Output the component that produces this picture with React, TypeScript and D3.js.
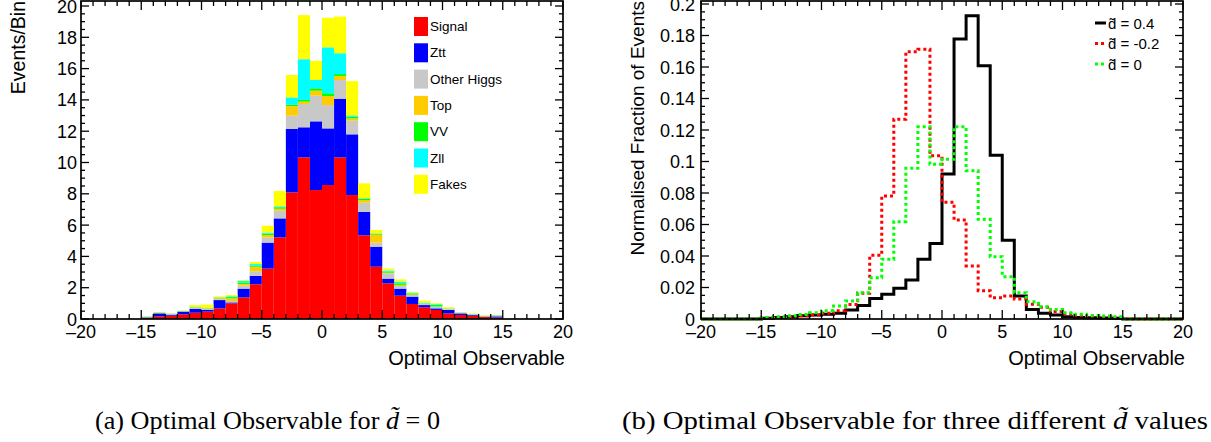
import React from 'react';
import * as d3 from 'd3';

// ---------- data ----------
const binLow = [-20,-19,-18,-17,-16,-15,-14,-13,-12,-11,-10,-9,-8,-7,-6,-5,-4,-3,-2,-1,0,1,2,3,4,5,6,7,8,9,10,11,12,13,14,15,16,17,18,19];

// (a) stacked contributions per bin (Events/Bin)
const signal = [0,0,0,0,0, .05,.17,.21,.3,.4, .47,.68,1.0,1.38,2.22, 3.22,5.22,8.09,10.33,8.24, 8.56,10.33,7.92,5.35,3.34, 2.28,1.49,.96,.75,.58, .36,.26,.21,.13,.1, 0,0,0,0,0];
const ztt = [0,0,0,0,0, .05,.19,.07,.17,.24, .12,.53,.06,.56,.53, 1.66,1.21,4.05,1.92,4.39, 3.62,3.75,3.88,1.49,1.28, .3,.45,.47,.14,.1, .22,.1,.05,.02,.07, 0,0,0,0,0];
const otherHiggs = [0,0,0,0,0, .03,.02,.04,.03,.06, .05,.06,.09,.19,.3, .34,.49,.85,1.49,1.64, 1.49,1.19,.87,.59,.26, .34,.17,.1,.07,.1, .04,.04,.04,.03,.03, 0,0,0,0,0];
const top = [0,0,0,0,0, 0,0,0,0,.03, .04,.06,.17,.11,.29, .15,.13,.61,.15,.32, .58,.26,.15,.17,.51, .04,.07,.04,.02,.02, .02,0,0,0,0, 0,0,0,0,0];
const vv = [0,0,0,0,0, .02,.03,.01,.02,.02, .02,.03,.08,.08,.07, .08,.09,.1,.11,.15, .17,.12,.11,.09,.06, .06,.1,.05,.02,.1, .02,.01,.01,.02,.02, 0,0,0,0,0];
const zll = [0,0,0,0,0, 0,0,.01,0,.02, .02,.02,.05,.11,.1, .07,.06,.46,2.6,.53, 2.94,1.33,.08,.03,.02, .07,.11,.04,.05,.05, .02,.01,.01,.01,.02, 0,0,0,0,0];
const fakes = [0,0,0,0,0, .02,.02,.02,.02,.12, .2,.07,.08,.06,.13, .44,.98,1.43,2.82,1.23, 1.89,2.34,2.19,.95,.22, .13,.14,.07,.12,.05, .07,.01,.04,.02,.01, 0,0,0,0,0];

const stackNames = ['Signal', 'Ztt', 'Other Higgs', 'Top', 'VV', 'Zll', 'Fakes'];
const stackColors = ['#ff0000', '#0000ff', '#c8c8c8', '#ffcc00', '#00ff00', '#00ffff', '#ffff00'];
const stackSeries = [signal, ztt, otherHiggs, top, vv, zll, fakes];

// (b) normalised fractions
const dPos04 = [0,0,0,0,0, .0005,.001,.0015,.002,.0025, .003,.0036,.0057,.0085,.013, .0157,.0195,.0248,.0379,.048, .092,.1778,.1926,.1608,.104, .05,.0146,.0061,.0036,.0025, .0015,.001,.0008,.0006,.0004, 0,0,0,0,0];
const dNeg02 = [0,0,0,0,0, .0005,.0008,.0012,.002,.0025, .0036,.0053,.0092,.0163,.0404, .0781,.1268,.1697,.1712,.1037, .0741,.0629,.0337,.018,.0135, .0146,.0127,.0093,.0074,.0047, .0032,.0023,.0017,.0012,.0008, 0,0,0,0,0];
const dZero = [0,0,0,0,0, .001,.0015,.002,.0028,.004, .0053,.0083,.0114,.0167,.0262, .0379,.0618,.0957,.1221,.0982, .1014,.1221,.0942,.0633,.0396, .0269,.0167,.011,.0078,.0061, .004,.003,.0023,.0019,.0015, 0,0,0,0,0];

const lineNames = ['d\u0303 = 0.4', 'd\u0303 = -0.2', 'd\u0303 = 0'];
const lineColors = ['#000000', '#ff0000', '#00ff00'];
const lineSeries = [dPos04, dNeg02, dZero];

const xMajor = [-20, -15, -10, -5, 0, 5, 10, 15, 20];
const yMajorA = [0, 2, 4, 6, 8, 10, 12, 14, 16, 18, 20];
const yMajorB = [0, 0.02, 0.04, 0.06, 0.08, 0.1, 0.12, 0.14, 0.16, 0.18, 0.2];

// ---------- layout ----------
const W = 1211, H = 442;
const FT = 'Liberation Sans, Arial, Helvetica, sans-serif';
const SERIF = 'Liberation Serif, Times New Roman, serif';
const TOP = 1, BOT = 319;

const xA = d3.scaleLinear().domain([-20, 20]).range([81, 563]);
const yA = d3.scaleLinear().domain([0, 20]).range([BOT, 6]);
const xB = d3.scaleLinear().domain([-20, 20]).range([701, 1183]);
const yB = d3.scaleLinear().domain([0, 0.2]).range([BOT, 4]);

function fmtX(v: number) { return v < 0 ? '\u2013' + Math.abs(v) : String(v); }
function fmtB(v: number) { return String(+v.toFixed(2)); }

function Frame({ x, y, yMinorStep, yMax, fmtY, labelGap }: any) {
  const x0 = x.range()[0], x1 = x.range()[1];
  const xMinor = d3.range(-20, 21, 1);
  const nMinor = Math.round(yMax / yMinorStep);
  const yMinor = d3.range(0, nMinor + 1).map((i) => i * yMinorStep).filter((v) => y(v) >= TOP);
  const majors = yMax > 1 ? yMajorA : yMajorB;
  return (
    <g>
      <rect x={x0} y={TOP} width={x1 - x0} height={BOT - TOP} fill="none" stroke="#000" strokeWidth={1.7} />
      {xMinor.map((v) => {
        const major = xMajor.includes(v);
        const L = major ? 9 : 5;
        return (
          <g key={'xt' + v}>
            <line x1={x(v)} x2={x(v)} y1={BOT} y2={BOT - L} stroke="#000" strokeWidth={1.3} />
            <line x1={x(v)} x2={x(v)} y1={TOP} y2={TOP + L} stroke="#000" strokeWidth={1.3} />
          </g>
        );
      })}
      {yMinor.map((v, i) => {
        const major = i % 4 === 0;
        const L = major ? 8 : 4;
        return (
          <g key={'yt' + i}>
            <line x1={x0} x2={x0 + L} y1={y(v)} y2={y(v)} stroke="#000" strokeWidth={1.3} />
            <line x1={x1} x2={x1 - L} y1={y(v)} y2={y(v)} stroke="#000" strokeWidth={1.3} />
          </g>
        );
      })}
      {xMajor.map((v) => (
        <text key={'xl' + v} x={x(v)} y={338} textAnchor="middle" fontFamily={FT} fontSize={18} fill="#000">{fmtX(v)}</text>
      ))}
      {majors.map((v: number) => (
        <text key={'yl' + v} x={x0 - labelGap} y={y(v) + 6.5} textAnchor="end" fontFamily={FT} fontSize={18} fill="#000">{fmtY(v)}</text>
      ))}
      <text x={x1 + 2} y={365} textAnchor="end" fontFamily={FT} fontSize={20} fill="#000">Optimal Observable</text>
    </g>
  );
}

export default function App() {
  const rows = binLow.map((b, i) => {
    const r: any = { b };
    stackNames.forEach((n, k) => { r[n] = stackSeries[k][i]; });
    return r;
  });
  const stacked = d3.stack<any>().keys(stackNames)(rows);

  const stepLine = d3.line<[number, number]>()
    .x((d) => xB(d[0]))
    .y((d) => yB(d[1]))
    .curve(d3.curveStepAfter);

  return (
    <svg width={W} height={H} viewBox={`0 0 ${W} ${H}`} style={{ position: 'absolute', left: 0, top: 0, background: '#fff' }}>
      <rect x={0} y={0} width={W} height={H} fill="#fff" />
      {/* (a) stacked histogram */}
      {stacked.map((layer, k) => (
        <g key={stackNames[k]} fill={stackColors[k]}>
          {layer.map((d, i) => {
            const h = yA(d[0]) - yA(d[1]);
            if (h <= 0) return null;
            return <rect key={i} x={xA(binLow[i])} y={yA(d[1])} width={xA(binLow[i] + 1) - xA(binLow[i])} height={h} />;
          })}
        </g>
      ))}
      <Frame x={xA} y={yA} yMinorStep={0.5} yMax={20.3} fmtY={(v: number) => String(v)} labelGap={4} />
      <text transform={`translate(25,1) rotate(-90)`} textAnchor="end" fontFamily={FT} fontSize={19.5} fill="#000">Events/Bin</text>
      {stackNames.map((n, k) => (
        <g key={'lg' + n}>
          <rect x={414} y={17 + k * 26.3} width={14} height={19} fill={stackColors[k]} />
          <text x={430} y={17 + k * 26.3 + 9.5} dominantBaseline="central" fontFamily={FT} fontSize={13.5} fill="#000">{n}</text>
        </g>
      ))}

      {/* (b) step lines */}
      {lineSeries.map((s, k) => {
        const pts: [number, number][] = binLow.map((b, i) => [b, s[i]] as [number, number]);
        pts.push([20, s[s.length - 1]]);
        return (
          <path key={'ln' + k} d={stepLine(pts) || ''} fill="none" stroke={lineColors[k]}
            strokeWidth={3} strokeDasharray={k === 0 ? undefined : '3,3'} />
        );
      })}
      <Frame x={xB} y={yB} yMinorStep={0.005} yMax={0.2019} fmtY={fmtB} labelGap={6} />
      <text transform={`translate(644,1) rotate(-90)`} textAnchor="end" fontFamily={FT} fontSize={19} fill="#000">Normalised Fraction of Events</text>
      {lineNames.map((n, k) => {
        const yy = 23 + k * 20.5;
        return (
          <g key={'ll' + k}>
            <line x1={1095} x2={1106} y1={yy} y2={yy} stroke={lineColors[k]} strokeWidth={3} strokeDasharray={k === 0 ? undefined : '3,3'} />
            <text x={1108} y={yy} dominantBaseline="central" fontFamily={FT} fontSize={15} fill="#000">{n}</text>
          </g>
        );
      })}

      {/* captions */}
      <text x={95} y={429} fontFamily={SERIF} fontSize={25} fill="#000" textLength={345} lengthAdjust="spacingAndGlyphs">
        (a) Optimal Observable for <tspan fontStyle="italic">d{'\u0303'}</tspan> = 0
      </text>
      <text x={622} y={429} fontFamily={SERIF} fontSize={25} fill="#000" textLength={586} lengthAdjust="spacingAndGlyphs">
        (b) Optimal Observable for three different <tspan fontStyle="italic">d{'\u0303'}</tspan> values
      </text>
    </svg>
  );
}
